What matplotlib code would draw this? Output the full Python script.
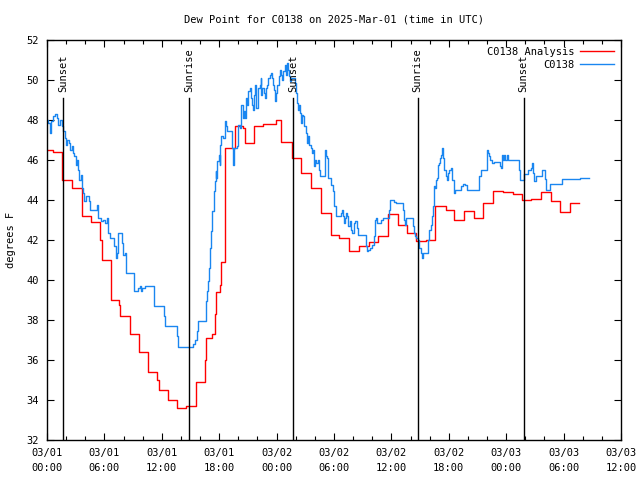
import matplotlib
matplotlib.use("Agg")
import matplotlib.pyplot as plt
import numpy as np

# ---- data (time in hours since 2025-03-01 00:00 UTC) ----
analysis_t = [0, 0.66, 1.53, 2.58, 3.62, 4.56, 5.53, 5.71, 6.65, 7.51, 7.62, 8.66, 9.60,
              10.57, 11.55, 11.69, 12.66, 13.60, 14.58, 15.62, 16.49, 16.66, 17.22, 17.53,
              17.71, 18.05, 18.23, 18.57, 19.62, 20.48, 20.73, 21.60, 22.57, 23.97, 24.49,
              25.64, 26.58, 27.55, 28.59, 29.64, 30.57, 31.62, 32.66, 33.63, 34.64, 35.62,
              36.66, 37.60, 38.58, 39.62, 40.59, 41.71, 42.58, 43.62, 44.66, 45.60, 46.65,
              47.62, 48.66, 49.70, 50.64, 51.68, 52.66, 53.64, 54.65, 55.62]
analysis_v = [46.5, 46.4, 45.0, 44.6, 43.2, 42.9, 42.0, 41.0, 39.0, 38.75, 38.2, 37.3, 36.4,
              35.4, 35.0, 34.5, 34.0, 33.6, 33.7, 34.9, 36.0, 37.1, 37.3, 38.3,
              39.4, 39.75, 40.9, 46.6, 47.7, 47.6, 46.83, 47.67, 47.78, 48.0, 46.88,
              46.08, 45.33, 44.58, 43.33, 42.25, 42.08, 41.45, 41.7, 41.87, 42.2, 43.28,
              42.75, 42.33, 41.92, 41.97, 43.7, 43.5, 43.0, 43.45, 43.08, 43.83, 44.43,
              44.38, 44.3, 43.98, 44.03, 44.38, 43.93, 43.38, 43.83, 43.83]

obs_t = [0.0, 0.14, 0.31, 0.42, 0.66, 0.83, 1.01, 1.18, 1.36, 1.53, 1.70, 1.88, 1.98, 2.12,
         2.30, 2.40, 2.57, 2.68, 2.85, 2.99, 3.10, 3.27, 3.37, 3.51, 3.62, 3.72, 3.86, 4.03,
         4.38, 4.49, 5.18, 5.36, 5.64, 5.88, 6.05, 6.23, 6.33, 6.40, 6.57, 7.03, 7.17, 7.34,
         7.44, 7.86, 7.97, 8.14, 8.24, 9.11, 9.53, 9.70, 9.81, 9.98, 10.23, 11.20, 12.24,
         12.38, 13.60, 13.70, 15.27, 15.44, 15.72, 15.79, 16.59, 16.69, 16.83, 16.94, 17.08,
         17.18, 17.29, 17.43, 17.53, 17.63, 17.70, 17.81, 17.95, 18.05, 18.12, 18.23, 18.40,
         18.58, 18.68, 18.82, 19.20, 19.34, 19.44, 19.55, 19.86, 19.97, 20.17, 20.31, 20.49,
         20.59, 20.66, 20.76, 20.90, 21.01, 21.18, 21.29, 21.43, 21.53, 21.64, 21.77, 21.88,
         22.05, 22.22, 22.33, 22.40, 22.51, 22.64, 22.75, 22.85, 22.99, 23.10, 23.27, 23.38,
         23.48, 23.62, 23.72, 23.86, 23.97, 24.07, 24.21, 24.31, 24.42, 24.56, 24.66, 24.84,
         24.94, 25.01, 25.11, 25.22, 25.32, 25.43, 25.53, 25.88, 25.98, 26.05, 26.12, 26.22,
         26.30, 26.40, 26.51, 26.64, 26.75, 26.82, 27.03, 27.17, 27.27, 27.38, 27.55, 27.69,
         27.79, 27.90, 28.04, 28.14, 28.32, 28.42, 28.56, 29.01, 29.11, 29.18, 29.28, 29.36,
         29.70, 29.88, 30.05, 30.23, 30.68, 30.82, 30.92, 31.03, 31.17, 31.27, 31.37, 31.44,
         31.72, 31.79, 31.90, 32.04, 32.14, 32.24, 32.38, 32.49, 33.36, 33.46, 33.60, 33.81,
         33.95, 34.16, 34.30, 34.40, 34.50, 34.92, 35.10, 35.72, 35.86, 36.24, 36.49, 37.18,
         37.29, 37.43, 37.53, 38.23, 38.33, 38.47, 38.57, 38.75, 38.92, 39.10, 39.17, 39.27,
         39.79, 39.97, 40.14, 40.25, 40.32, 40.42, 40.49, 40.59, 40.66, 40.77, 40.84, 40.91,
         41.01, 41.12, 41.18, 41.25, 41.36, 41.46, 41.53, 41.71, 41.81, 41.95, 42.05, 42.23,
         42.33, 42.58, 42.68, 43.27, 43.44, 43.72, 43.86, 45.18, 45.36, 45.95, 46.05, 46.16,
         46.30, 46.51, 46.75, 47.34, 47.44, 47.55, 47.69, 47.79, 47.90, 48.04, 48.14, 49.36,
         49.46, 49.81, 49.88, 50.33, 50.58, 50.68, 50.82, 50.92, 51.10, 51.72, 52.07, 52.14,
         52.59, 53.88, 55.72, 56.66]
obs_v = [48.0, 47.83, 47.33, 47.92, 48.17, 48.3, 48.08, 47.75, 48.0, 47.67, 47.42, 47.08, 46.75, 47.0,
         46.83, 46.5, 46.67, 46.33, 46.17, 45.75, 46.0, 45.5, 45.0, 45.25, 44.58, 44.33, 43.92, 44.17,
         43.92, 43.5, 43.75, 43.08, 42.92, 43.0, 42.83, 43.08, 42.67, 42.33, 42.08, 41.67, 41.08, 41.33,
         42.33, 41.83, 41.25, 41.33, 40.33, 39.42, 39.58, 39.67, 39.42, 39.58, 39.67, 38.67, 38.17,
         37.67, 37.17, 36.63, 36.8, 36.97, 37.42, 37.92, 38.92, 39.42, 39.92, 40.58, 41.58,
         42.42, 43.42, 44.42, 44.92, 45.42, 45.08, 45.92, 46.25, 45.75, 46.75, 47.17, 47.08,
         47.92, 47.67, 47.42, 47.42, 46.58, 45.75, 46.58, 46.67, 47.75, 47.58, 48.75, 48.08,
         48.42, 48.08, 49.08, 48.75, 49.42, 49.58, 49.08, 48.75, 48.5, 49.25, 49.75, 48.58,
         49.58, 49.75, 50.08, 49.25, 49.58, 49.33, 49.08, 49.58, 49.75, 50.08, 50.25, 50.33,
         50.08, 49.75, 49.5, 48.92, 49.33, 49.75, 50.17, 50.5, 50.25, 50.0, 50.42, 50.75,
         50.58, 50.25, 50.83, 50.5, 50.17, 49.92, 50.08, 49.83, 49.67, 49.33, 48.83, 48.5,
         48.75, 48.33, 47.83, 48.25, 48.17, 47.67, 47.33, 46.83, 47.17, 46.75, 46.58, 46.33,
         46.5, 45.67, 46.0, 45.83, 46.0, 45.5, 45.17, 46.33, 46.5, 46.17, 46.08, 45.08,
         44.75, 44.42, 43.67, 43.17, 43.33, 43.5, 43.17, 42.83, 43.08, 43.33, 43.17, 42.67,
         42.92, 42.5, 42.33, 42.67, 42.83, 42.92, 42.58, 42.25, 41.67, 41.42, 41.5, 41.58,
         41.75, 42.17, 43.0, 43.08, 42.83, 43.0, 43.08, 43.5, 44.0, 43.87, 43.83, 43.5,
         43.0, 42.75, 43.08, 42.67, 42.33, 42.17, 42.08, 42.0, 41.58, 41.33, 41.08, 41.33,
         42.0, 42.5, 42.75, 43.17, 43.67, 44.33, 44.67, 44.58, 45.0, 45.08, 45.33, 45.75,
         45.83, 46.08, 46.25, 46.58, 46.08, 45.83, 45.5, 45.17, 45.0, 45.33, 45.5, 45.58,
         45.0, 44.33, 44.5, 44.67, 44.8, 44.75, 44.5, 45.17, 45.5, 46.5, 46.33, 46.17,
         46.0, 45.83, 45.88, 45.67, 45.58, 46.25, 46.0, 46.25, 46.0, 46.25, 46.0, 45.5,
         45.0, 45.17, 45.3, 45.5, 45.58, 45.83, 45.33, 44.92, 45.17, 45.47, 45.03, 44.5,
         44.78, 45.03, 45.08, 45.08]

event_t = [1.70, 14.85, 25.70, 38.75, 49.81]
event_label = ["Sunset", "Sunrise", "Sunset", "Sunrise", "Sunset"]

xtick_hours = [0, 6, 12, 18, 24, 30, 36, 42, 48, 54, 60]
xtick_labels = ["03/01\n00:00", "03/01\n06:00", "03/01\n12:00", "03/01\n18:00",
                "03/02\n00:00", "03/02\n06:00", "03/02\n12:00", "03/02\n18:00",
                "03/03\n00:00", "03/03\n06:00", "03/03\n12:00"]
ytick_vals = [32, 34, 36, 38, 40, 42, 44, 46, 48, 50, 52]

FONT = "DejaVu Sans Mono"
FS = 7.5
plt.rcParams["font.family"] = FONT

fig = plt.figure(figsize=(6.4, 4.8), dpi=100)
ax = fig.add_axes([47 / 640, 1 - 439.5 / 480, 574 / 640, 400 / 480])

ax.step(analysis_t, analysis_v, where="post", color="#ff0000", lw=1.0, label="C0138 Analysis")
ax.step(obs_t, obs_v, where="post", color="#1a86f0", lw=1.0, label="C0138")

for t, lab in zip(event_t, event_label):
    ax.plot([t, t], [32, 49.1], color="black", lw=1.0)
    ax.text(t, 49.35, lab, rotation=90, ha="center", va="bottom", fontsize=FS, family=FONT)

ax.set_xlim(0, 60)
ax.set_ylim(32, 52)
ax.set_xticks(xtick_hours)
ax.set_xticklabels(xtick_labels, fontsize=FS, linespacing=1.6)
ax.set_xticks(np.arange(0, 61, 2), minor=True)
ax.set_yticks(ytick_vals)
ax.set_yticklabels([str(v) for v in ytick_vals], fontsize=FS)
ax.tick_params(axis="both", which="major", direction="in", length=5, width=0.8,
               top=True, right=True, pad=6)
ax.tick_params(axis="x", which="minor", direction="in", length=3, width=0.8, top=True)
for s in ax.spines.values():
    s.set_linewidth(1.0)

ax.set_ylabel("degrees F", fontsize=FS, labelpad=7)
ax.set_title("Dew Point for C0138 on 2025-Mar-01 (time in UTC)", fontsize=FS, pad=12)

leg = ax.legend(loc="upper right", frameon=False, markerfirst=False, fontsize=FS,
                handlelength=3.2, handletextpad=0.6, borderaxespad=0.3, labelspacing=0.3)

fig.savefig("out.png", dpi=100)
